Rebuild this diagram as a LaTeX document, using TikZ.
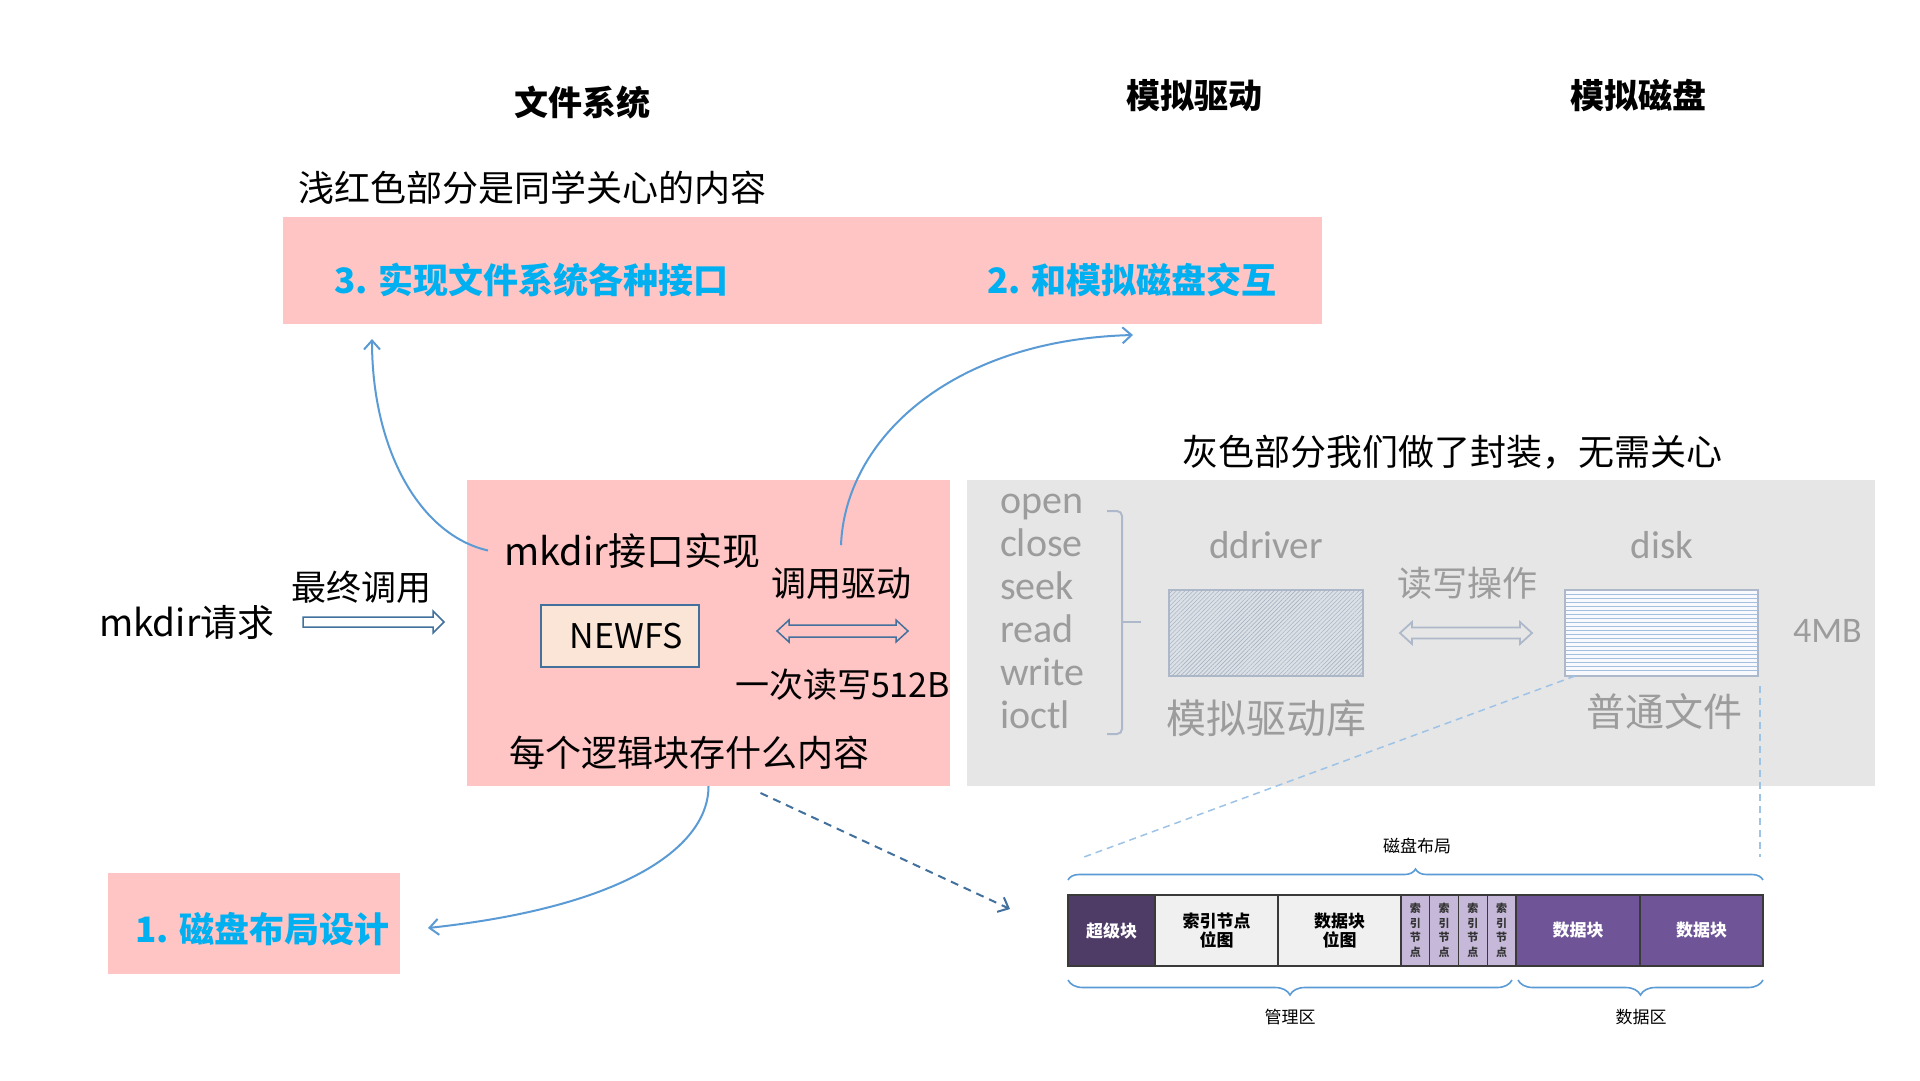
\documentclass[tikz,border=0pt]{standalone}
\usepackage{fontspec}
\setmainfont{Noto Sans CJK SC}
\newfontfamily\cali{Carlito}
\usetikzlibrary{arrows.meta,patterns.meta,decorations.pathreplacing}
\definecolor{pinkbg}{HTML}{FFC4C4}
\definecolor{graybg}{HTML}{E7E6E6}
\definecolor{fsblue}{HTML}{00B0F0}
\definecolor{curveblue}{HTML}{5B9BD5}
\definecolor{darkblue}{HTML}{41719C}
\definecolor{lightblue}{HTML}{9DC3E6}
\definecolor{edgegray}{HTML}{ADB9CA}
\definecolor{graytext}{HTML}{9C9C9C}
\definecolor{newfsbg}{HTML}{FBE5D6}
\definecolor{hatchbg}{HTML}{DCE1E8}
\definecolor{hatchline}{HTML}{A9B3C0}
\definecolor{diskbg}{HTML}{F7F9FC}
\definecolor{disklines}{HTML}{A4BEDF}
\definecolor{superpurple}{HTML}{4E3B66}
\definecolor{datapurple}{HTML}{6F5597}
\definecolor{inodelav}{HTML}{C5B8D9}
\definecolor{bitgray}{HTML}{F0F0F0}
\definecolor{celledge}{HTML}{3A3A3A}
\begin{document}
\begin{tikzpicture}[x=1pt,y=-1pt,
  every node/.style={inner sep=0pt,outer sep=0pt},
  txt/.style={anchor=base west,font=\fontsize{36}{42}\selectfont},
  head/.style={anchor=base,font=\bfseries\fontsize{34}{40}\selectfont},
  bluetxt/.style={anchor=base west,text=fsblue,font=\bfseries\fontsize{35}{40}\selectfont},
  graytxt/.style={anchor=base,text=graytext,font=\fontsize{39}{44}\selectfont},
  grayword/.style={anchor=base,text=graytext,font=\cali\fontsize{40}{44}\selectfont},
  pinkbox/.style={fill=pinkbg},
  curve/.style={draw=curveblue,line width=2pt,-{Straight Barb[length=9pt,width=16pt]}},
  cell/.style={draw=celledge,line width=1.2pt,minimum height=71pt,anchor=west,align=center,font=\bfseries\fontsize{17}{19}\selectfont},
  lbrace/.style={draw=curveblue,line width=1.6pt,decorate},
  small/.style={anchor=base,font=\fontsize{17}{20}\selectfont},
  hollow/.style={draw=darkblue,line width=1.5pt}]
\fill[white] (0,0) rectangle (1920,1080);
\useasboundingbox (0,0) rectangle (1920,1080);

\node[head] (hfs) at (582,115) {文件系统};
\node[head] (hdrv) at (1194,108) {模拟驱动};
\node[head] (hdisk) at (1638,108) {模拟磁盘};

\node[txt] (note1) at (298,201) {浅红色部分是同学关心的内容};
\node[pinkbox,minimum width=1039pt,minimum height=107pt] (topbox) at (802.5,270.5) {};
\node[bluetxt] (t3) at (334,293) {3. 实现文件系统各种接口};
\node[bluetxt] (t2) at (987,293) {2. 和模拟磁盘交互};

\node[txt] (note2) at (1182,465) {灰色部分我们做了封装，无需关心};
\node[pinkbox,minimum width=483pt,minimum height=306pt] (fsbox) at (708.5,633) {};
\node[fill=graybg,minimum width=908pt,minimum height=306pt] (grbox) at (1421,633) {};

\node[txt,font=\fontsize{38}{44}\selectfont] (mkimpl) at (504,565) {mkdir接口实现};
\node[draw=darkblue,line width=2pt,fill=newfsbg,minimum width=158pt,minimum height=62pt,font=\fontsize{34}{40}\selectfont] (newfs) at (620,636) {\hspace{12pt}NEWFS};
\node[txt,font=\fontsize{35}{40}\selectfont] (calldrv) at (771,596) {调用驱动};
\node[txt,font=\fontsize{34}{40}\selectfont] (rw512) at (735,697) {一次读写512B};
\node[txt] (blk) at (509,766) {每个逻辑块存什么内容};
\draw[hollow] (777,631) -- (789,620) -- (789,625) -- (896,625) -- (896,620) -- (908,631) -- (896,642) -- (896,637) -- (789,637) -- (789,642) -- cycle;

\node[txt,font=\fontsize{37}{42}\selectfont] (req) at (99,636) {mkdir请求};
\node[txt,font=\fontsize{35}{40}\selectfont] (final) at (291,600) {最终调用};
\draw[hollow,fill=white] (303,617) -- (433,617) -- (433,611) -- (444,622) -- (433,633) -- (433,627) -- (303,627) -- cycle;

\node[pinkbox,minimum width=292pt,minimum height=101pt] (laybox) at (254,923.5) {};
\node[bluetxt] (t1) at (135,942) {1. 磁盘布局设计};

\foreach \w [count=\i] in {open,close,seek,read,write,ioctl}
  \node[grayword,anchor=base west] (api\i) at (1000,470+43*\i) {\w};
\draw[draw=edgegray,line width=2pt,rounded corners=5pt] (1107,511) -| (1122,734) -- (1107,734);
\draw[draw=edgegray,line width=2pt] (1122,622) -- (1141,622);

\node[grayword,font=\cali\fontsize{39}{44}\selectfont] (drvname) at (1266,558) {ddriver};
\node[draw=edgegray,line width=2pt,fill=hatchbg,postaction={pattern={Lines[angle=45,distance=3pt,line width=.6pt]},pattern color=hatchline},minimum width=194pt,minimum height=86pt] (drv) at (1266,633) {};
\node[graytxt,font=\fontsize{40}{44}\selectfont] (drvlib) at (1266,733) {模拟驱动库};
\node[graytxt,font=\fontsize{35}{40}\selectfont] (rwop) at (1467,596) {读写操作};
\draw[draw=edgegray,line width=1.8pt] (1400,633) -- (1412,622) -- (1412,627.5) -- (1520,627.5) -- (1520,622) -- (1532,633) -- (1520,644) -- (1520,638.5) -- (1412,638.5) -- (1412,644) -- cycle;
\node[grayword,font=\cali\fontsize{39}{44}\selectfont] (diskname) at (1662,558) {disk};
\node[draw=edgegray,line width=2pt,fill=diskbg,minimum width=193pt,minimum height=86pt] (disk) at (1661.5,633) {};
\foreach \k in {1,...,20}
  \draw[disklines,line width=1pt] (1566,590+4*\k) -- (1757,590+4*\k);
\node[graytxt] (plain) at (1664,726) {普通文件};
\node[grayword,anchor=base west,font=\cali\fontsize{36}{40}\selectfont] (size) at (1793,642) {4MB};

\node[small] (laytitle) at (1417,852) {磁盘布局};
\node[cell,fill=superpurple,text=white,minimum width=87pt] (sb) at (1068,930.5) {超级块};
\node[cell,fill=bitgray,minimum width=123pt] (ibm) at (1155,930.5) {索引节点\\位图};
\node[cell,fill=bitgray,minimum width=123pt] (dbm) at (1278,930.5) {数据块\\位图};
\foreach \i in {0,...,3}
  \node[cell,fill=inodelav,text=black!80,minimum width=28.75pt,font=\bfseries\fontsize{11}{14.5}\selectfont] (ino\i) at (1401+28.75*\i,930.5) {索\\引\\节\\点};
\node[cell,fill=datapurple,text=white,minimum width=124pt] (db1) at (1516,930.5) {数据块};
\node[cell,fill=datapurple,text=white,minimum width=123pt] (db2) at (1640,930.5) {数据块};
\draw[lbrace,decoration={brace,amplitude=11pt}] (1068,880) -- (1763,880);
\draw[lbrace,decoration={brace,mirror,amplitude=15pt}] (1068,980) -- (1512,980);
\draw[lbrace,decoration={brace,mirror,amplitude=15pt}] (1518,980) -- (1763,980);
\node[small] (mgmt) at (1290,1023) {管理区};
\node[small] (datazone) at (1641,1023) {数据区};

\coordinate (layl) at (1084,857);
\coordinate (layr) at (1760,857);
\draw[lightblue,line width=1.5pt,dash pattern=on 7pt off 5pt] ([xshift=10pt]disk.south west) -- (layl);
\draw[lightblue,line width=1.5pt,dash pattern=on 7pt off 5pt] (disk.south east) ++(2,10) -- (layr);

\coordinate (a3) at (372,339);
\coordinate (a2) at (1133,335);
\coordinate (a1) at (428,928);
\coordinate (dl) at (1010,909);
\draw[curve] ([xshift=-16pt]mkimpl.west) .. controls (420,535) and (372,450) .. (a3);
\draw[curve] ([yshift=22pt]calldrv.north) .. controls (845,440) and (950,340) .. (a2);
\draw[curve] (fsbox.south) .. controls (709,840) and (640,905) .. (a1);
\draw[draw=darkblue,line width=2pt,dash pattern=on 8pt off 6pt,-{Straight Barb[length=9pt,width=16pt]}] ([xshift=52pt,yshift=-7pt]fsbox.south) -- (dl);
\end{tikzpicture}
\end{document}
